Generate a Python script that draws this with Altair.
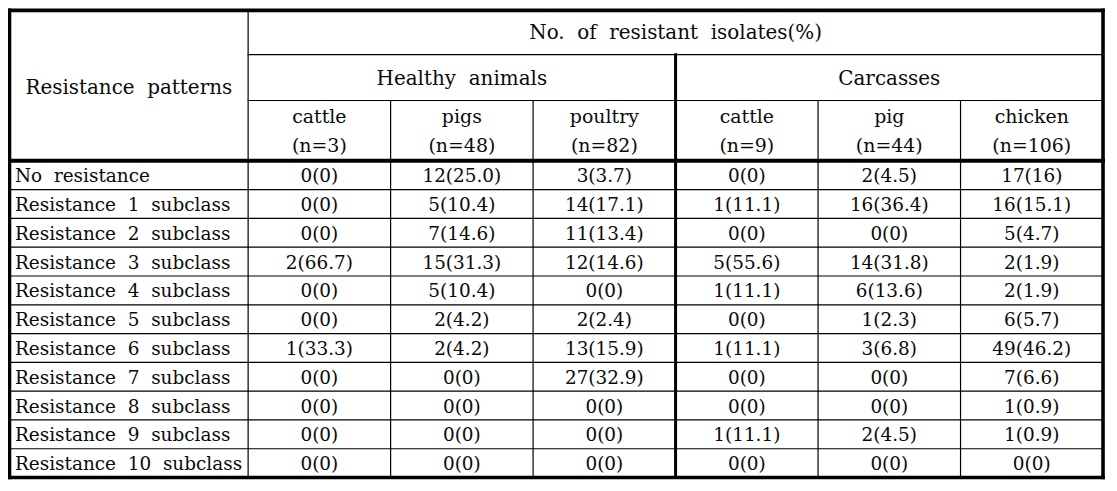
import altair as alt
import pandas as pd

# ---------------- data ----------------
patterns = ["No resistance"] + [f"Resistance {i} subclass" for i in range(1, 11)]
title_text = "No. of resistant isolates(%)"
row_header = "Resistance patterns"
groups = ["Healthy animals", "Carcasses"]
species = ["cattle", "pigs", "poultry", "cattle", "pig", "chicken"]
sizes = ["(n=3)", "(n=48)", "(n=82)", "(n=9)", "(n=44)", "(n=106)"]

healthy_cattle = ["0(0)", "0(0)", "0(0)", "2(66.7)", "0(0)", "0(0)", "1(33.3)", "0(0)", "0(0)", "0(0)", "0(0)"]
healthy_pigs = ["12(25.0)", "5(10.4)", "7(14.6)", "15(31.3)", "5(10.4)", "2(4.2)", "2(4.2)", "0(0)", "0(0)", "0(0)", "0(0)"]
healthy_poultry = ["3(3.7)", "14(17.1)", "11(13.4)", "12(14.6)", "0(0)", "2(2.4)", "13(15.9)", "27(32.9)", "0(0)", "0(0)", "0(0)"]
carc_cattle = ["0(0)", "1(11.1)", "0(0)", "5(55.6)", "1(11.1)", "0(0)", "1(11.1)", "0(0)", "0(0)", "1(11.1)", "0(0)"]
carc_pig = ["2(4.5)", "16(36.4)", "0(0)", "14(31.8)", "6(13.6)", "1(2.3)", "3(6.8)", "0(0)", "0(0)", "2(4.5)", "0(0)"]
carc_chicken = ["17(16)", "16(15.1)", "5(4.7)", "2(1.9)", "2(1.9)", "6(5.7)", "49(46.2)", "7(6.6)", "1(0.9)", "1(0.9)", "0(0)"]
columns = [healthy_cattle, healthy_pigs, healthy_poultry, carc_cattle, carc_pig, carc_chicken]

# ---------------- layout ----------------
LABEL_W = 239.5
COL_W = 143.0
H1, H2, H3 = 44.5, 46.0, 60.5
ROW_H = 28.9
NCOL = len(columns)
NROW = len(patterns)
TW = LABEL_W + NCOL * COL_W
HEAD = H1 + H2 + H3
TH = HEAD + NROW * ROW_H
xe = [0.0] + [LABEL_W + i * COL_W for i in range(NCOL + 1)]

FONT = "DejaVu Serif"
FS_HEAD, FS_SUB, FS_CELL = 20, 19, 18.5
INK = "#0a0a0a"
NB = "\u00a0"


def sp(s, n=2):
    return s.replace(" ", NB * n)


# ---------------- grid lines ----------------
rules = []
thin, thick, border = 1.2, 3.0, 3.6
rules += [dict(x=0, x2=TW, y=0, y2=0, w=border), dict(x=0, x2=TW, y=TH, y2=TH, w=border),
          dict(x=0, x2=0, y=0, y2=TH, w=border), dict(x=TW, x2=TW, y=0, y2=TH, w=border)]
rules += [dict(x=xe[1], x2=TW, y=H1, y2=H1, w=thin),
          dict(x=xe[1], x2=TW, y=H1 + H2, y2=H1 + H2, w=thin),
          dict(x=0, x2=TW, y=HEAD, y2=HEAD, w=4.0)]
for r in range(1, NROW):
    yy = HEAD + r * ROW_H
    rules.append(dict(x=0, x2=TW, y=yy, y2=yy, w=thin))
rules.append(dict(x=xe[1], x2=xe[1], y=0, y2=TH, w=thin))
rules.append(dict(x=xe[4], x2=xe[4], y=H1, y2=TH, w=thick))
for c in [2, 3, 5, 6]:
    rules.append(dict(x=xe[c], x2=xe[c], y=H1 + H2, y2=TH, w=thin))
rules_df = pd.DataFrame(rules)

# ---------------- texts ----------------
center_txt = []
center_txt.append(dict(x=(xe[0] + xe[1]) / 2, y=HEAD / 2 + 1.5, t=sp(row_header), fs=FS_HEAD))
center_txt.append(dict(x=(xe[1] + TW) / 2, y=H1 / 2, t=sp(title_text), fs=FS_HEAD))
for g, name in enumerate(groups):
    center_txt.append(dict(x=(xe[1 + 3 * g] + xe[4 + 3 * g]) / 2, y=H1 + H2 / 2,
                           t=sp(name), fs=FS_HEAD))
for c in range(NCOL):
    cx = (xe[c + 1] + xe[c + 2]) / 2
    center_txt.append(dict(x=cx, y=H1 + H2 + H3 / 2 - 14.5, t=species[c], fs=FS_SUB))
    center_txt.append(dict(x=cx, y=H1 + H2 + H3 / 2 + 14, t=sizes[c], fs=FS_SUB))
    for r in range(NROW):
        center_txt.append(dict(x=cx, y=HEAD + (r + 0.5) * ROW_H, t=columns[c][r], fs=FS_CELL))
center_df = pd.DataFrame(center_txt)

label_df = pd.DataFrame(dict(x=[5.5] * NROW,
                             y=[HEAD + (r + 0.5) * ROW_H for r in range(NROW)],
                             t=[sp(p) for p in patterns],
                             fs=[FS_CELL] * NROW))

xs = alt.Scale(domain=[0, TW], nice=False, zero=False)
ys = alt.Scale(domain=[0, TH], nice=False, zero=False, reverse=True)

grid = alt.Chart(rules_df).mark_rule(color="black", strokeCap="square").encode(
    x=alt.X("x:Q", scale=xs, axis=None), x2="x2:Q",
    y=alt.Y("y:Q", scale=ys, axis=None), y2="y2:Q",
    strokeWidth=alt.StrokeWidth("w:Q", scale=None, legend=None),
)

ctext = alt.Chart(center_df).mark_text(font=FONT, color=INK, align="center",
                                       baseline="middle", dy=1).encode(
    x=alt.X("x:Q", scale=xs, axis=None), y=alt.Y("y:Q", scale=ys, axis=None), text="t:N",
    size=alt.Size("fs:Q", scale=None, legend=None))

ltext = alt.Chart(label_df).mark_text(font=FONT, color=INK, align="left",
                                      baseline="middle", dy=1).encode(
    x=alt.X("x:Q", scale=xs, axis=None), y=alt.Y("y:Q", scale=ys, axis=None), text="t:N",
    size=alt.Size("fs:Q", scale=None, legend=None))

chart = alt.layer(grid, ctext, ltext).properties(
    width=TW, height=TH,
    padding={"left": 1.5, "top": 1.5, "right": 6, "bottom": 6},
    autosize=alt.AutoSizeParams(type="none"),
    background="white",
).configure_view(stroke=None)

chart.save("out.html", embed_options={"renderer": "svg", "actions": False})
